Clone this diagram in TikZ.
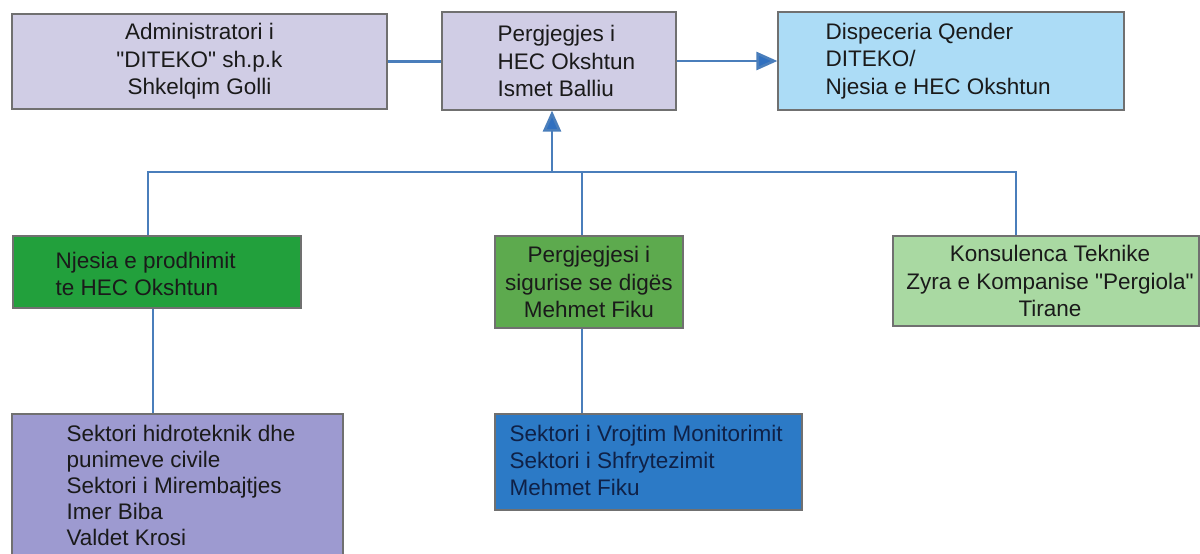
\documentclass[tikz,border=0pt]{standalone}
\usepackage{fontspec}
\setmainfont{Liberation Sans}
\newfontfamily\arialf{Liberation Sans}
\usetikzlibrary{arrows.meta,calc}
\definecolor{lav}{HTML}{D0CDE5}
\definecolor{skyb}{HTML}{ACDCF6}
\definecolor{dgreen}{HTML}{22A03C}
\definecolor{mgreen}{HTML}{5DAA4E}
\definecolor{lgreen}{HTML}{A9D9A2}
\definecolor{purp}{HTML}{9D9AD0}
\definecolor{dblue}{HTML}{2C7AC6}
\definecolor{navy}{HTML}{0F2147}
\definecolor{conncol}{HTML}{4A7EBB}
\definecolor{arrcol}{HTML}{3070C0}
\definecolor{boxline}{HTML}{707070}
\definecolor{txtcol}{HTML}{1A1A1A}
\begin{document}
\begin{tikzpicture}[x=1pt,y=-1pt,
  box/.style={draw=boxline, line width=1.2pt, inner sep=0pt, rectangle},
  txt/.style={inner sep=0pt, text=txtcol, font=\arialf\fontsize{22.5}{27.5}\selectfont},
  conn/.style={draw=conncol, line width=2.6pt},
  tip/.style={-{Triangle[length=21pt,width=18pt,fill=arrcol]}}]
\fill[white] (0,0) rectangle (1200,554);
\useasboundingbox (0,0) rectangle (1200,554);
\clip (0,0) rectangle (1200,554);

% boxes
\node[box, fill=lav, minimum width=375pt, minimum height=95pt] (A) at (199.5,61.5) {};
\node[box, fill=lav, minimum width=234pt, minimum height=98pt] (B) at (559,61) {};
\node[box, fill=skyb, minimum width=346pt, minimum height=98pt] (C) at (951,61) {};
\node[box, fill=dgreen, minimum width=288pt, minimum height=72pt] (D) at (157,272) {};
\node[box, fill=mgreen, minimum width=188pt, minimum height=92pt] (E) at (589,282) {};
\node[box, fill=lgreen, minimum width=306pt, minimum height=90pt] (F) at (1046,281) {};
\node[box, fill=purp, minimum width=331pt, minimum height=160pt] (G) at (177.5,494) {};
\node[box, fill=dblue, minimum width=307pt, minimum height=96pt] (H) at (648.5,462) {};

% texts
\node[txt, align=center] (At) at (A.center) {Administratori i\\"DITEKO" sh.p.k\\Shkelqim Golli};
\node[txt, align=left, anchor=west] (Bt) at ($(B.west)+(56,0)$) {Pergjegjes i\\HEC Okshtun\\Ismet Balliu};
\node[txt, align=left, anchor=west] (Ct) at ($(C.west)+(48,0)$) {Dispeceria Qender\\DITEKO/\\Njesia e HEC Okshtun};
\node[txt, align=left, anchor=west] (Dt) at ($(D.west)+(43,2)$) {Njesia e prodhimit\\te HEC Okshtun};
\node[txt, align=center] (Et) at (E.center) {Pergjegjesi i\\sigurise se digës\\Mehmet Fiku};
\node[txt, align=center] (Ft) at ($(F.center)+(4,0)$) {Konsulenca Teknike\\Zyra e Kompanise "Pergiola"\\Tirane};
\node[txt, align=left, anchor=north west, font=\arialf\fontsize{22.5}{26}\selectfont] (Gt) at ($(G.north west)+(55,12)$) {Sektori hidroteknik dhe\\punimeve civile\\Sektori i Mirembajtjes\\Imer Biba\\Valdet Krosi};
\node[txt, align=left, anchor=north west, text=navy, font=\arialf\fontsize{22.5}{27}\selectfont] (Ht) at ($(H.north west)+(15,12)$) {Sektori i Vrojtim Monitorimit\\Sektori i Shfrytezimit\\Mehmet Fiku};

% connectors
\coordinate (busL) at (148,172);
\coordinate (busR) at (1016,172);
\coordinate (busB) at (552,172);
\coordinate (busE) at (582,172);
\coordinate (dDown) at (153,308);

\draw[conn] (A.east) -- (A.east -| B.west);
\draw[conn, tip] (B.east) -- (B.east -| C.west);
\draw[conn] (busL |- D.north) -- (busL) -- (busR) -- (busR |- F.north);
\draw[conn, tip] (busB) -- (busB |- B.south);
\draw[conn] (busE) -- (busE |- E.north);
\draw[conn] (dDown |- D.south) -- (dDown |- G.north);
\draw[conn] (busE |- E.south) -- (busE |- H.north);
\end{tikzpicture}
\end{document}
